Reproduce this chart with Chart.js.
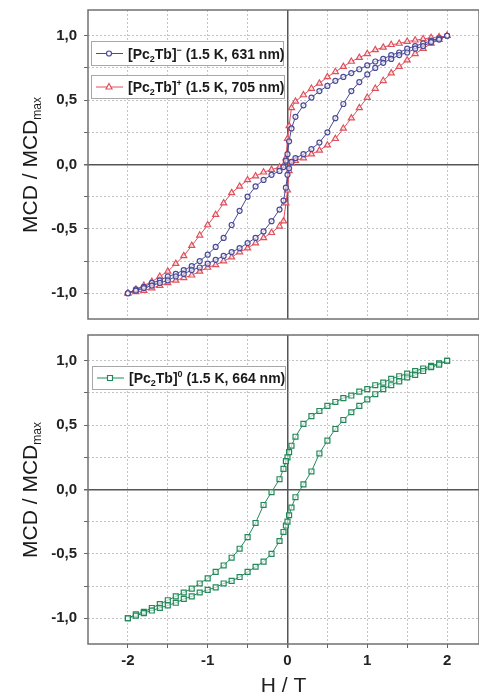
<!DOCTYPE html>
<html>
<head>
<meta charset="utf-8">
<script src="https://cdn.jsdelivr.net/npm/chart.js@4.4.1/dist/chart.umd.min.js"></script>
<style>
  html, body { margin: 0; padding: 0; background: #fff; overflow: hidden; }
  #top { position: absolute; left: 0; top: 0; width: 479px; height: 330px; }
  #bottom { position: absolute; left: 0; top: 330px; width: 479px; height: 367px; }
</style>
</head>
<body>
<div id="top"><canvas id="topChart"></canvas></div>
<div id="bottom"><canvas id="bottomChart"></canvas></div>
<script>
// field sweeps (T): down from +2 to -2, then back up
const FIELD_DOWN = [2, 1.9, 1.8, 1.7, 1.6, 1.5, 1.4, 1.3, 1.2, 1.1, 1, 0.9, 0.8, 0.7, 0.6, 0.5, 0.4, 0.3, 0.2, 0.1,
  0.05, 0.02, 0, -0.02, -0.05, -0.1, -0.2, -0.3, -0.4, -0.5, -0.6, -0.7, -0.8, -0.9, -1, -1.1, -1.2, -1.3, -1.4,
  -1.5, -1.6, -1.7, -1.8, -1.9, -2];
const FIELD_UP = [-2, -1.9, -1.8, -1.7, -1.6, -1.5, -1.4, -1.3, -1.2, -1.1, -1, -0.9, -0.8, -0.7, -0.6, -0.5, -0.4,
  -0.3, -0.2, -0.1, -0.05, -0.02, 0, 0.02, 0.05, 0.1, 0.2, 0.3, 0.4, 0.5, 0.6, 0.7, 0.8, 0.9, 1, 1.1, 1.2, 1.3, 1.4,
  1.5, 1.6, 1.7, 1.8, 1.9, 2];

// [Pc2Tb]- (blue)
const ANION_DOWN = [1.00, 0.98, 0.96, 0.94, 0.92, 0.90, 0.87, 0.85, 0.82, 0.80, 0.77, 0.74, 0.71, 0.68, 0.65, 0.61,
  0.57, 0.52, 0.46, 0.37, 0.28, 0.18, 0.08, 0.03, -0.02, -0.05, -0.08, -0.12, -0.17, -0.25, -0.36, -0.47, -0.57,
  -0.64, -0.70, -0.75, -0.79, -0.82, -0.85, -0.87, -0.90, -0.92, -0.95, -0.97, -1.00];
const ANION_UP = [-1.00, -0.98, -0.96, -0.94, -0.92, -0.90, -0.87, -0.85, -0.82, -0.80, -0.77, -0.74, -0.71, -0.68,
  -0.65, -0.61, -0.57, -0.52, -0.44, -0.35, -0.28, -0.18, -0.08, -0.03, 0.02, 0.05, 0.08, 0.12, 0.17, 0.25, 0.36,
  0.47, 0.57, 0.64, 0.70, 0.75, 0.79, 0.82, 0.85, 0.87, 0.90, 0.92, 0.95, 0.97, 1.00];

// [Pc2Tb]+ (red)
const CATION_DOWN = [1.00, 0.99, 0.985, 0.975, 0.965, 0.955, 0.94, 0.93, 0.91, 0.89, 0.86, 0.83, 0.80, 0.76, 0.72,
  0.68, 0.63, 0.59, 0.54, 0.49, 0.44, 0.30, 0.20, 0.05, -0.01, -0.02, -0.04, -0.06, -0.09, -0.12, -0.17, -0.22,
  -0.30, -0.39, -0.47, -0.55, -0.63, -0.71, -0.77, -0.83, -0.87, -0.91, -0.94, -0.97, -1.00];
const CATION_UP = [-1.00, -0.99, -0.98, -0.96, -0.94, -0.92, -0.90, -0.88, -0.86, -0.83, -0.80, -0.78, -0.75, -0.72,
  -0.68, -0.65, -0.61, -0.57, -0.53, -0.48, -0.44, -0.30, -0.20, -0.05, 0.01, 0.03, 0.05, 0.08, 0.11, 0.15, 0.20,
  0.28, 0.36, 0.44, 0.52, 0.59, 0.65, 0.71, 0.76, 0.81, 0.86, 0.90, 0.94, 0.97, 1.00];

// [Pc2Tb]0 (green)
const NEUTRAL_DOWN = [1.00, 0.98, 0.96, 0.94, 0.92, 0.90, 0.88, 0.86, 0.83, 0.81, 0.78, 0.76, 0.73, 0.71, 0.68, 0.65,
  0.61, 0.57, 0.51, 0.41, 0.34, 0.29, 0.25, 0.22, 0.16, 0.08, -0.02, -0.12, -0.26, -0.37, -0.46, -0.53, -0.59,
  -0.64, -0.69, -0.73, -0.77, -0.80, -0.83, -0.86, -0.89, -0.92, -0.95, -0.97, -1.00];
const NEUTRAL_UP = [-1.00, -0.98, -0.96, -0.94, -0.92, -0.90, -0.88, -0.85, -0.83, -0.80, -0.78, -0.76, -0.73, -0.71,
  -0.68, -0.64, -0.60, -0.56, -0.50, -0.40, -0.33, -0.28, -0.25, -0.20, -0.14, -0.06, 0.04, 0.14, 0.28, 0.38, 0.47,
  0.54, 0.60, 0.65, 0.70, 0.74, 0.78, 0.81, 0.84, 0.87, 0.89, 0.92, 0.95, 0.97, 1.00];

const SERIES_CHARGE = ['\u2212', '+', '0'];
const SERIES_INFO = ['(1.5 K, 631 nm)', '(1.5 K, 705 nm)', '(1.5 K, 664 nm)'];
const X_TICKS = [-2, -1.5, -1, -0.5, 0, 0.5, 1, 1.5, 2];
const Y_TICKS = [-1, -0.75, -0.5, -0.25, 0, 0.25, 0.5, 0.75, 1];

const BLUE = '#4a4a98';
const RED = '#e0505c';
const GREEN = '#23895a';
const FONT = '"Liberation Sans", Arial, sans-serif';

function loop(down, up) {
  const pts = FIELD_DOWN.map((h, i) => ({ x: h, y: down[i] }));
  return pts.concat(FIELD_UP.map((h, i) => ({ x: h, y: up[i] })));
}

function series(data, color, style, radius) {
  return {
    data: data,
    showLine: true,
    borderColor: color,
    borderWidth: 1,
    pointStyle: style,
    pointRadius: radius,
    pointBorderWidth: 1.2,
    pointBorderColor: color,
    pointBackgroundColor: 'rgba(255,255,255,0.6)',
    tension: 0
  };
}

function scales(withXLabels) {
  const isZero = ctx => ctx.tick && Math.abs(ctx.tick.value) < 1e-9;
  return {
    x: {
      type: 'linear', min: -2.5, max: 2.4,
      afterBuildTicks: s => { s.ticks = X_TICKS.map(v => ({ value: v })); },
      afterFit: s => { s.height = withXLabels ? 53 : 0; s.paddingLeft = 0; s.paddingRight = 0; },
      ticks: {
        display: withXLabels, autoSkip: false, maxRotation: 0, padding: 4, color: '#222',
        font: { family: FONT, size: 15, weight: 'bold' },
        callback: v => Number.isInteger(v) ? String(v) : ''
      },
      grid: {
        drawTicks: withXLabels, tickLength: 4, tickColor: '#666',
        color: ctx => isZero(ctx) ? '#555' : '#c4c4c4',
        lineWidth: ctx => isZero(ctx) ? 1.5 : 1
      },
      border: { display: false, dash: ctx => isZero(ctx) ? [] : [2, 2] },
      title: {
        display: withXLabels, text: 'H / T', color: '#222', padding: 0,
        font: { family: FONT, size: 21, lineHeight: 1 }
      }
    },
    y: {
      type: 'linear', min: -1.2, max: 1.2,
      afterBuildTicks: s => { s.ticks = Y_TICKS.map(v => ({ value: v })); },
      afterFit: s => { s.width = 88; s.paddingTop = 0; s.paddingBottom = 0; },
      ticks: {
        autoSkip: false, padding: 7, color: '#222',
        font: { family: FONT, size: 15, weight: 'bold' },
        callback: v => Math.abs(v * 2 - Math.round(v * 2)) < 1e-9 ? v.toFixed(1).replace('.', ',') : ''
      },
      grid: {
        tickLength: 4, tickColor: '#666',
        color: ctx => isZero(ctx) ? '#555' : '#c4c4c4',
        lineWidth: ctx => isZero(ctx) ? 1.5 : 1
      },
      border: { display: false, dash: ctx => isZero(ctx) ? [] : [2, 2] }
    }
  };
}

// frame around plot area
const framePlugin = {
  id: 'frame',
  beforeDatasetsDraw(chart) {
    const { ctx, chartArea: a } = chart;
    ctx.save();
    ctx.strokeStyle = '#707070';
    ctx.lineWidth = 1.5;
    ctx.strokeRect(a.left, a.top, a.right - a.left, a.bottom - a.top);
    ctx.restore();
  }
};

function drawMarker(ctx, style, x, y, color) {
  ctx.strokeStyle = color;
  ctx.lineWidth = 1.2;
  ctx.fillStyle = '#fff';
  ctx.beginPath();
  if (style === 'triangle') {
    ctx.moveTo(x, y - 3.5); ctx.lineTo(x + 3, y + 2); ctx.lineTo(x - 3, y + 2); ctx.closePath();
  } else if (style === 'rect') {
    ctx.rect(x - 2.5, y - 2.5, 5, 5);
  } else {
    ctx.arc(x, y, 2.5, 0, Math.PI * 2);
  }
  ctx.fill();
  ctx.stroke();
}

// legend boxes with sub/superscripts
function drawLegend(ctx, box, color, style, charge, info) {
  ctx.save();
  ctx.fillStyle = '#fff';
  ctx.fillRect(box.x, box.y, box.w, box.h);
  ctx.strokeStyle = '#a8a8a8';
  ctx.lineWidth = 1;
  ctx.strokeRect(box.x + 0.5, box.y + 0.5, box.w, box.h);
  const my = box.y + box.h / 2 + 0.5;
  ctx.strokeStyle = color;
  ctx.beginPath();
  ctx.moveTo(box.x + 5, my); ctx.lineTo(box.x + 32, my);
  ctx.stroke();
  drawMarker(ctx, style, box.x + 18, my, color);
  let x = box.x + 37;
  const base = my + 5;
  ctx.fillStyle = '#1a1a1a';
  ctx.textBaseline = 'alphabetic';
  const big = 'bold 14px ' + FONT, small = 'bold 9px ' + FONT;
  const part = (t, f, dy) => { ctx.font = f; ctx.fillText(t, x, base + dy); x += ctx.measureText(t).width; };
  part('[Pc', big, 0);
  part('2', small, 3);
  part('Tb]', big, 0);
  part(charge, small, -6);
  part(' ' + info, big, 0);
  ctx.restore();
}

function drawYTitle(ctx, cx, cy) {
  ctx.save();
  ctx.translate(cx, cy);
  ctx.rotate(-Math.PI / 2);
  ctx.fillStyle = '#1a1a1a';
  ctx.textBaseline = 'alphabetic';
  ctx.font = '21px ' + FONT;
  const w1 = ctx.measureText('MCD / MCD').width;
  ctx.font = '12px ' + FONT;
  const w2 = ctx.measureText('max').width;
  const start = -(w1 + w2) / 2;
  ctx.font = '21px ' + FONT;
  ctx.fillText('MCD / MCD', start, 8);
  ctx.font = '12px ' + FONT;
  ctx.fillText('max', start + w1, 12);
  ctx.restore();
}

const topDecor = {
  id: 'topDecor',
  afterDraw(chart) {
    const ctx = chart.ctx;
    drawLegend(ctx, { x: 91, y: 41, w: 192, h: 24 }, BLUE, 'circle', SERIES_CHARGE[0], SERIES_INFO[0]);
    drawLegend(ctx, { x: 91, y: 75, w: 193, h: 23 }, RED, 'triangle', SERIES_CHARGE[1], SERIES_INFO[1]);
    drawYTitle(ctx, 29, 165);
  }
};

const bottomDecor = {
  id: 'bottomDecor',
  afterDraw(chart) {
    const ctx = chart.ctx;
    drawLegend(ctx, { x: 92, y: 36, w: 193, h: 23 }, GREEN, 'rect', SERIES_CHARGE[2], SERIES_INFO[2]);
    drawYTitle(ctx, 29, 160);
  }
};

const common = {
  responsive: true,
  maintainAspectRatio: false,
  animation: false,
  plugins: { legend: { display: false }, tooltip: { enabled: false } }
};

new Chart(document.getElementById('topChart'), {
  type: 'scatter',
  data: {
    datasets: [
      series(loop(ANION_DOWN, ANION_UP), BLUE, 'circle', 2.5),
      series(loop(CATION_DOWN, CATION_UP), RED, 'triangle', 3.5)
    ]
  },
  options: Object.assign({}, common, {
    layout: { autoPadding: false, padding: { top: 10, bottom: 11, left: 0, right: 0 } },
    scales: scales(false)
  }),
  plugins: [framePlugin, topDecor]
});

new Chart(document.getElementById('bottomChart'), {
  type: 'scatter',
  data: {
    datasets: [series(loop(NEUTRAL_DOWN, NEUTRAL_UP), GREEN, 'rect', 3.5)]
  },
  options: Object.assign({}, common, {
    layout: { autoPadding: false, padding: { top: 5, bottom: 0, left: 0, right: 0 } },
    scales: scales(true)
  }),
  plugins: [framePlugin, bottomDecor]
});
</script>
</body>
</html>
